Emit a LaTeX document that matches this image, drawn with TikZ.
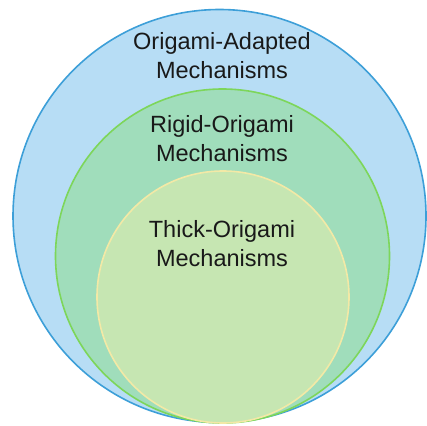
\documentclass[tikz,border=0pt]{standalone}
\usepackage{fontspec}
\setmainfont{Liberation Sans}
\usetikzlibrary{positioning}
\definecolor{adaptfill}{HTML}{B7DDF5}
\definecolor{adaptline}{HTML}{3D9FD8}
\definecolor{rigidfill}{HTML}{A0DDBB}
\definecolor{rigidline}{HTML}{7DD65A}
\definecolor{thickfill}{HTML}{C6E6B2}
\definecolor{thickline}{HTML}{F3E9A6}
\tikzset{setcircle/.style={circle,draw,line width=1.6pt,inner sep=0pt},settext/.style={align=center,inner sep=0pt,font=\fontsize{23.5}{29}\selectfont,text=black!90}}

\begin{document}
\begin{tikzpicture}[x=1pt,y=-1pt]
\useasboundingbox (0,0) rectangle (427,425);
\node[setcircle, draw=adaptline, fill=adaptfill, minimum size=413pt] (adapt) at (219.5,216) {};
\node[setcircle, draw=rigidline, fill=rigidfill, minimum size=334pt] (rigid) at (222.5,256) {};
\node[setcircle, draw=thickline, fill=thickfill, minimum size=252pt] (thick) at (223,297) {};
\node[settext] (adapttext) at (222,55.5) {Origami-Adapted\\Mechanisms};
\node[settext] (rigidtext) at (222,139) {Rigid-Origami\\Mechanisms};
\node[settext] (thicktext) at (222,243.5) {Thick-Origami\\Mechanisms};
\end{tikzpicture}
\end{document}
